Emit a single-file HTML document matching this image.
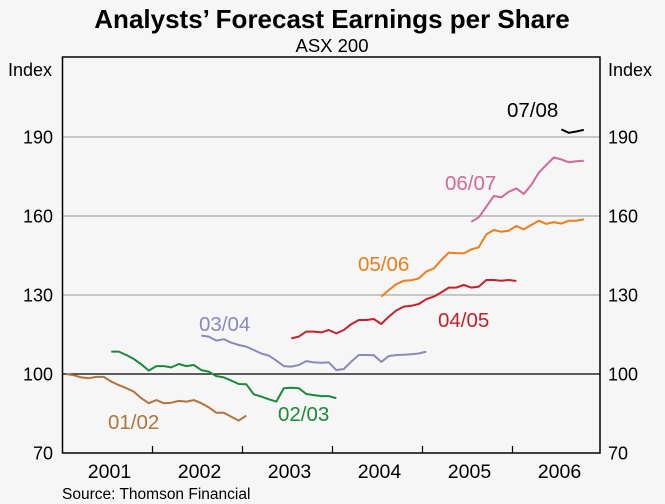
<!DOCTYPE html>
<html><head><meta charset="utf-8"><style>
body{margin:0;background:#f6f6f6;}
svg{display:block;font-family:"Liberation Sans",Arial,sans-serif;}
</style></head><body>
<svg id="c" width="665" height="504" viewBox="0 0 665 504">
<rect width="665" height="504" fill="#f6f6f6"/>
<text x="332" y="28" text-anchor="middle" font-size="26" font-weight="bold" fill="#000">Analysts’ Forecast Earnings per Share</text>
<text x="332" y="52" text-anchor="middle" font-size="18.5" fill="#000">ASX 200</text>
<text x="8" y="76" font-size="18">Index</text>
<text x="608" y="76" font-size="18">Index</text>
<text x="62" y="499" font-size="15.5">Source: Thomson Financial</text>
<g id="g"></g>
</svg>
<script>
const yTicks=[70,100,130,160,190];
const years=["2001","2002","2003","2004","2005","2006"];
const s0102=[100,99.5,98.7,98.4,98.9,98.9,97.1,95.8,94.6,93.3,90.8,88.9,90.1,88.9,89.1,89.8,89.5,90.1,88.9,87.3,85.3,85.3,83.8,82.3,84.2];
const s0203=[108.5,108.5,107.2,105.7,103.7,101.3,103.0,103.0,102.5,103.8,103.0,103.4,101.5,100.9,99.2,98.7,97.5,96.2,96.1,92.3,91.4,90.4,89.5,94.6,94.8,94.6,92.4,92.0,91.6,91.6,90.8];
const s0304=[114.6,114.2,112.7,113.2,111.9,111.0,110.4,109.1,107.8,107.0,105.1,103.0,102.8,103.4,104.9,104.4,104.3,104.4,101.5,101.9,104.7,107.2,107.2,107.1,104.6,106.8,107.2,107.3,107.5,107.8,108.5];
const s0405=[113.5,114.2,116.1,116.1,115.8,116.7,115.4,116.7,118.9,120.5,120.5,120.9,119.0,121.8,124.1,125.6,125.9,126.6,128.4,129.4,131.0,132.8,132.8,133.8,132.8,133.2,135.7,135.7,135.4,135.7,135.3];
const s0506=[129.4,131.9,134.1,135.4,135.6,136.3,138.9,140.1,143.3,146.1,145.9,145.8,147.3,148.1,153.0,154.7,154.0,154.4,156.2,154.9,156.6,158.2,157.0,157.7,157.1,158.2,158.2,158.7];
const s0607=[157.8,159.5,163.5,167.6,167.1,169.2,170.5,168.4,171.8,176.5,179.4,182.2,181.5,180.4,180.8,181.0];
const s0708=[192.9,191.6,192.1,192.7];
const starts=[0.5,6.5,18.5,30.5,42.5,54.5,66.5];
const seriesNames=["01/02","02/03","03/04","04/05","05/06","06/07","07/08"];
const colors=["#b0743c","#1a8a3a","#8a8ab8","#c8202a","#ee7d1a","#d2689a","#000"];
const labelPos=[[108,429],[278,421],[199,331],[438,327],[358,271],[445,190],[507,117]];
const all=[s0102,s0203,s0304,s0405,s0506,s0607,s0708];
const L=62.5,R=600,T=57,B=453;
const x=m=>L+m*7.5;
const y=v=>B-(v-70)*(B-374)/30;
const g=document.getElementById('g');
const NS='http://www.w3.org/2000/svg';
function mk(t,a){const e=document.createElementNS(NS,t);for(const k in a)e.setAttribute(k,a[k]);g.appendChild(e);return e;}
yTicks.forEach(v=>{
 if(v>70&&v!==100){const l=mk('line',{x1:L,x2:R,y1:y(v),y2:y(v),stroke:'#aaa','stroke-width':1.2});
 
 }
 const a=mk('text',{x:53,y:y(v)+6.5,'text-anchor':'end','font-size':18});a.textContent=v;
 
 
 const b=mk('text',{x:608,y:y(v)+6.5,'font-size':18});b.textContent=v;
 
 
});
const zl=mk('line',{x1:L,x2:R,y1:y(100),y2:y(100),stroke:'#000','stroke-width':1.3});


years.forEach((t,i)=>{
 const e=mk('text',{x:L+47+i*90,y:478,'text-anchor':'middle','font-size':19.5});e.textContent=t;
 
 
 if(i>0){const k=mk('line',{x1:L+i*90,x2:L+i*90,y1:B,y2:B-7,stroke:'#000','stroke-width':1.2});
 
 }
});
all.forEach((s,i)=>{
 const pts=s.map((v,j)=>x(starts[i]+j).toFixed(1)+','+y(v).toFixed(1)).join(' ');
 const p=mk('polyline',{points:pts,fill:'none',stroke:colors[i],'stroke-width':2,'stroke-linejoin':'round'});
 
 
 const t=mk('text',{x:labelPos[i][0],y:labelPos[i][1],'font-size':20.5,fill:colors[i]});t.textContent=seriesNames[i];
 
 
});
const f=mk('rect',{x:L,y:T,width:R-L,height:B-T,fill:'none',stroke:'#000','stroke-width':1.5});


</script>
</body></html>
